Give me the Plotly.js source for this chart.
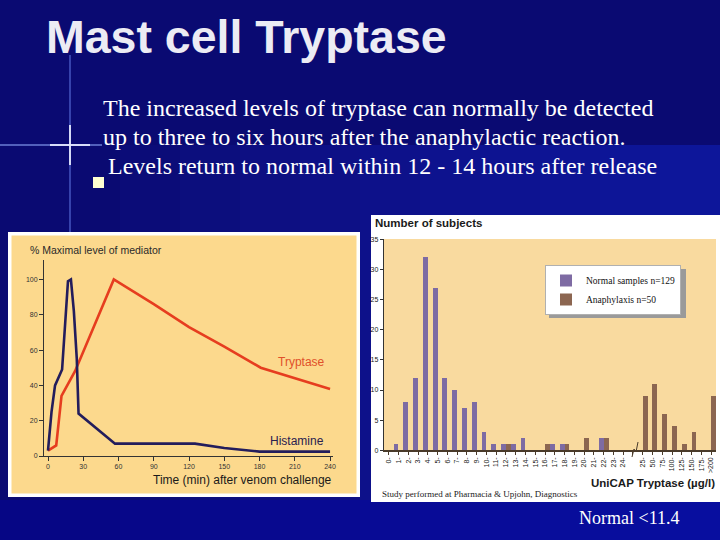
<!DOCTYPE html>
<html><head><meta charset="utf-8">
<script src="https://cdn.plot.ly/plotly-3.0.1.min.js"></script>
<style>html,body{margin:0;padding:0;background:#0A0A72;}#chart{width:720px;height:540px;}</style>
</head><body><div id="chart"></div>
<script>
// ---- Left chart: mediator release after venom challenge ----
const histTime  = [0, 3, 6, 12, 17, 19.5, 22, 24.5, 26, 35, 57, 125, 150, 180, 240];
const histLevel = [3, 25, 40, 49, 99, 100, 82, 55, 24, 19, 7, 7, 4.5, 2.5, 2.5];
const tryTime   = [0, 7, 11.5, 23, 56, 90, 120, 150, 181, 240];
const tryLevel  = [3, 6, 34, 48, 100, 86, 73, 62, 50, 38];
const timeTicks  = [0, 30, 60, 90, 120, 150, 180, 210, 240];
const levelTicks = [0, 20, 40, 60, 80, 100];

// ---- Right chart: UniCAP tryptase distribution ----
const tryptaseBins = ["0-","1-","2-","3-","4-","5-","6-","7-","8-","9-","10-","11-","12-","13-","14-","15-","16-","17-","18-","19-","20-","21-","22-","23-","24-"," ","25-","50-","75-","100-","125-","150-","175-",">200"];
const normalCounts      = [0,1,8,12,32,27,12,10,7,8,3,1,1,1,2,0,0,1,1,0,0,0,2,0,0,null,0,0,0,0,0,0,0,0];
const anaphylaxisCounts = [0,0,0,0,0,0,0,0,0,0,0,0,1,0,0,0,1,0,1,0,2,0,2,0,0,null,9,11,6,4,1,3,0,9];
const countTicks = [0, 5, 10, 15, 20, 25, 30, 35];

const W = 720, H = 540;
const px = x => x / W;
const py = y => 1 - y / H;

const beigeL = '#FCD98D', beigeR = '#F9DA9F';
const purple = '#7E6BA3', brown = '#8C6651';

const traces = [
  {x: tryTime, y: tryLevel, type: 'scatter', mode: 'lines', xaxis: 'x', yaxis: 'y',
   line: {color: '#E63D1F', width: 2.6}, showlegend: false, hoverinfo: 'skip'},
  {x: histTime, y: histLevel, type: 'scatter', mode: 'lines', xaxis: 'x', yaxis: 'y',
   line: {color: '#231D5C', width: 2.6}, showlegend: false, hoverinfo: 'skip'},
  {x: tryptaseBins, y: normalCounts, type: 'bar', name: 'Normal samples n=129', xaxis: 'x2', yaxis: 'y2',
   marker: {color: purple}},
  {x: tryptaseBins, y: anaphylaxisCounts, type: 'bar', name: 'Anaphylaxis n=50', xaxis: 'x2', yaxis: 'y2',
   marker: {color: brown}}
];

// background gradient imitation
const shapes = [];
const bandSteps = 10;
for (let i = 0; i < bandSteps; i++) {
  shapes.push({type: 'rect', xref: 'paper', yref: 'paper', layer: 'below',
    x0: px(120 + i * 60), x1: 1, y0: 0, y1: py(145),
    fillcolor: 'rgba(20,40,190,0.08)', line: {width: 0}});
}
shapes.push({type: 'rect', xref: 'paper', yref: 'paper', layer: 'below',
  x0: 0, x1: 1, y0: 0, y1: py(500), fillcolor: 'rgba(0,0,170,0.35)', line: {width: 0}});
// light flare cross
shapes.push({type: 'line', xref: 'paper', yref: 'paper', layer: 'below', x0: px(70), x1: px(70), y0: py(55), y1: py(232),
  line: {color: 'rgba(120,150,255,0.55)', width: 1.5}});
shapes.push({type: 'line', xref: 'paper', yref: 'paper', layer: 'below', x0: px(0), x1: px(102), y0: py(145), y1: py(145),
  line: {color: 'rgba(150,175,255,0.7)', width: 1.5}});
shapes.push({type: 'line', xref: 'paper', yref: 'paper', layer: 'below', x0: px(50), x1: px(90), y0: py(145), y1: py(145),
  line: {color: 'rgba(230,235,255,0.9)', width: 2}});
shapes.push({type: 'line', xref: 'paper', yref: 'paper', layer: 'below', x0: px(70), x1: px(70), y0: py(125), y1: py(165),
  line: {color: 'rgba(230,235,255,0.9)', width: 2}});
// bullet square
shapes.push({type: 'rect', xref: 'paper', yref: 'paper', layer: 'below', x0: px(93), x1: px(104), y0: py(188), y1: py(177),
  fillcolor: '#FFFFD0', line: {width: 0}});
// left panel
shapes.push({type: 'rect', xref: 'paper', yref: 'paper', layer: 'below', x0: px(8), x1: px(360), y0: py(497), y1: py(232),
  fillcolor: '#FFFFFF', line: {width: 0}});
shapes.push({type: 'rect', xref: 'paper', yref: 'paper', layer: 'below', x0: px(11.5), x1: px(356.5), y0: py(493.5), y1: py(235.5),
  fillcolor: beigeL, line: {width: 0}});
// right panel
shapes.push({type: 'rect', xref: 'paper', yref: 'paper', layer: 'below', x0: px(371), x1: px(720), y0: py(502), y1: py(215),
  fillcolor: '#FFFFFF', line: {width: 0}});
shapes.push({type: 'rect', xref: 'paper', yref: 'paper', layer: 'below', x0: px(384), x1: px(716), y0: py(452), y1: py(239),
  fillcolor: beigeR, line: {width: 0}});
// legend shadow
shapes.push({type: 'rect', xref: 'paper', yref: 'paper', layer: 'below', x0: px(549), x1: px(686), y0: py(318), y1: py(269),
  fillcolor: '#9A9A9A', line: {width: 0}});
// axis break mark
shapes.push({type: 'path', xref: 'paper', yref: 'paper', layer: 'above',
  path: `M ${px(632)} ${py(457)} L ${px(634)} ${py(449)} L ${px(636)} ${py(452)} L ${px(638)} ${py(442)}`,
  line: {color: '#4A3B2A', width: 1}});

const annotations = [
  {text: '<b>Mast cell Tryptase</b>', x: px(44), y: py(37), xanchor: 'left', yanchor: 'middle',
   font: {family: 'Liberation Sans', size: 46.5, color: '#ECECF4'}},
  {text: 'The increased levels of tryptase can normally be detected', x: px(101), y: py(108), xanchor: 'left', yanchor: 'middle',
   font: {family: 'Liberation Serif', size: 24, color: '#FFFFFF'}},
  {text: 'up to three to six hours after the anaphylactic reaction.', x: px(101), y: py(137), xanchor: 'left', yanchor: 'middle',
   font: {family: 'Liberation Serif', size: 24, color: '#FFFFFF'}},
  {text: 'Levels return to normal within 12 - 14 hours after release', x: px(106), y: py(166), xanchor: 'left', yanchor: 'middle',
   font: {family: 'Liberation Serif', size: 24, color: '#FFFFFF'}},
  {text: '% Maximal level of mediator', x: px(28), y: py(250), xanchor: 'left', yanchor: 'middle',
   font: {family: 'Liberation Sans', size: 10.5, color: '#2A2A2A'}},
  {text: 'Time (min) after venom challenge', x: px(334), y: py(480), xanchor: 'right', yanchor: 'middle',
   font: {family: 'Liberation Sans', size: 12, color: '#1A1A1A'}},
  {text: 'Tryptase', x: px(276), y: py(362), xanchor: 'left', yanchor: 'middle',
   font: {family: 'Liberation Sans', size: 12, color: '#E0502A'}},
  {text: 'Histamine', x: px(268), y: py(441), xanchor: 'left', yanchor: 'middle',
   font: {family: 'Liberation Sans', size: 12, color: '#2A2050'}},
  {text: '<b>Number of subjects</b>', x: px(373), y: py(223), xanchor: 'left', yanchor: 'middle',
   font: {family: 'Liberation Sans', size: 11.5, color: '#1A1A1A'}},
  {text: '<b>UniCAP Tryptase (µg/l)</b>', x: px(717), y: py(483), xanchor: 'right', yanchor: 'middle',
   font: {family: 'Liberation Sans', size: 11.5, color: '#1A1A1A'}},
  {text: 'Study performed at Pharmacia &amp; Upjohn, Diagnostics', x: px(380), y: py(494), xanchor: 'left', yanchor: 'middle',
   font: {family: 'Liberation Serif', size: 9, color: '#1A1A1A'}},
  {text: 'Normal &lt;11.4', x: px(577), y: py(518), xanchor: 'left', yanchor: 'middle',
   font: {family: 'Liberation Serif', size: 18, color: '#FFFFFF'}}
].map(a => Object.assign({xref: 'paper', yref: 'paper', showarrow: false}, a));

const layout = {
  width: W, height: H,
  margin: {l: 0, r: 0, t: 0, b: 0},
  paper_bgcolor: '#0A0A72',
  plot_bgcolor: 'rgba(0,0,0,0)',
  barmode: 'group', bargap: 0.0, bargroupgap: 0,
  showlegend: true,
  legend: {x: px(545), y: py(265), xanchor: 'left', yanchor: 'top', bgcolor: '#FFFFFF',
           bordercolor: '#B0B0B0', borderwidth: 1, itemwidth: 30, tracegroupgap: 2,
           font: {family: 'Liberation Serif', size: 9.5, color: '#111'}},
  xaxis: {domain: [px(44), px(333)], range: [-3.4, 242.5], anchor: 'y',
          tickmode: 'array', tickvals: timeTicks, ticks: 'outside', ticklen: 4, tickcolor: '#333',
          showline: true, linecolor: '#333', linewidth: 1, showgrid: false, zeroline: false,
          tickfont: {family: 'Liberation Sans', size: 7, color: '#333'}},
  yaxis: {domain: [py(456), py(260)], range: [0, 111], anchor: 'x',
          tickmode: 'array', tickvals: levelTicks, ticks: 'outside', ticklen: 4, tickcolor: '#333',
          showline: true, linecolor: '#333', linewidth: 1, showgrid: false, zeroline: false,
          tickfont: {family: 'Liberation Sans', size: 7, color: '#333'}},
  xaxis2: {domain: [px(383.8), px(716)], range: [-0.5, 33.5], anchor: 'y2', type: 'category',
           categoryorder: 'array', categoryarray: tryptaseBins,
           tickangle: -90, ticks: 'outside', ticklen: 3, tickcolor: '#4A3B2A',
           showline: true, linecolor: '#4A3B2A', linewidth: 1.2, showgrid: false, zeroline: false,
           tickfont: {family: 'Liberation Sans', size: 7, color: '#222'}},
  yaxis2: {domain: [py(450.3), py(239.3)], range: [0, 35], anchor: 'x2',
           tickmode: 'array', tickvals: countTicks, ticks: 'outside', ticklen: 3, tickcolor: '#333',
           showline: true, linecolor: '#333', linewidth: 1, showgrid: false, zeroline: false,
           tickfont: {family: 'Liberation Sans', size: 7, color: '#222'}},
  shapes: shapes,
  annotations: annotations
};

Plotly.newPlot('chart', traces, layout, {displayModeBar: false, staticPlot: true});
</script>
</body></html>
